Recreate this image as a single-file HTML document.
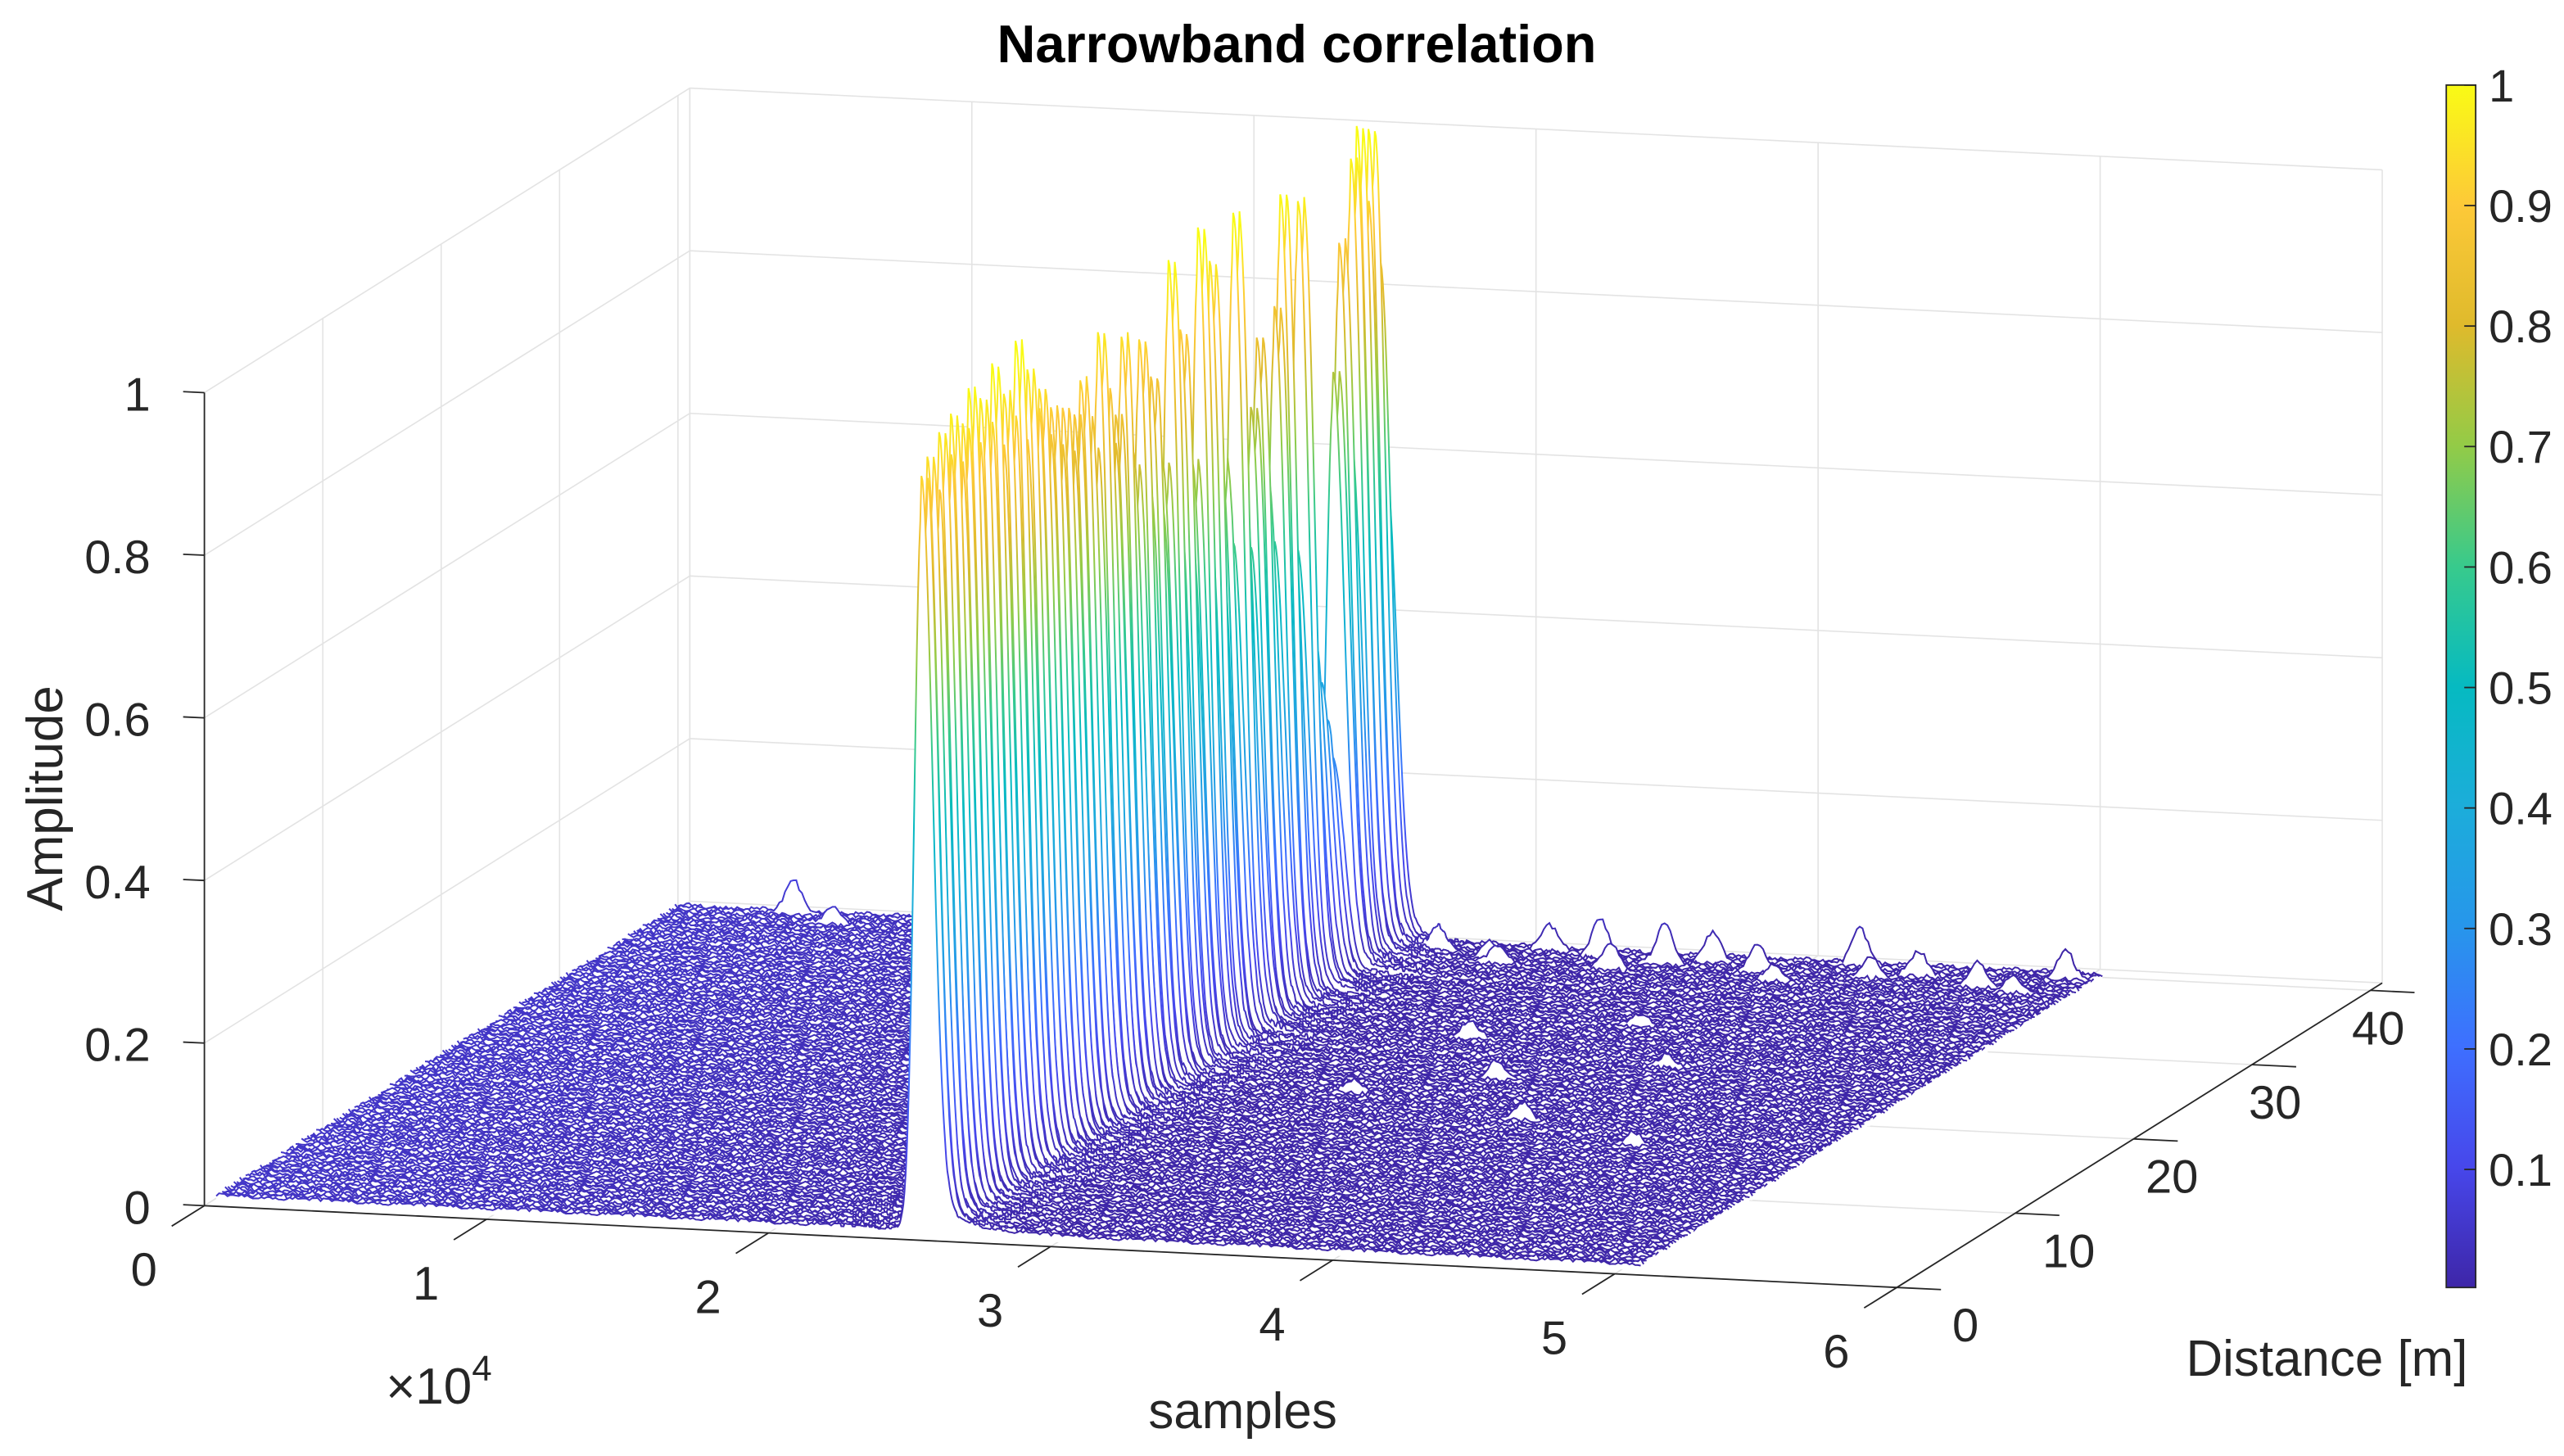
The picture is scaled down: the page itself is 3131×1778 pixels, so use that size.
<!DOCTYPE html>
<html><head><meta charset="utf-8"><style>
html,body{margin:0;padding:0;background:#fff;}
svg{display:block;}
text{font-family:"Liberation Sans",Arial,sans-serif;fill:#262626;}
</style></head><body>
<svg id="chart" xmlns="http://www.w3.org/2000/svg" width="3131" height="1778" viewBox="0 0 1568 890" preserveAspectRatio="none">
<defs id="defs"></defs>
<g id="grid"></g>
<g id="surface"></g>
<g id="axes"></g>
<text x="793" y="38" text-anchor="middle" font-size="32.5" font-weight="bold" style="fill:#000">Narrowband correlation</text>
<text x="0" y="0" text-anchor="middle" font-size="31" transform="translate(38,488) rotate(-90)">Amplitude</text>
<text x="760" y="873" text-anchor="middle" font-size="31">samples</text>
<text x="1423" y="841" text-anchor="middle" font-size="31">Distance [m]</text>
<text x="236" y="858" font-size="31">×10<tspan font-size="22" dy="-14">4</tspan></text>
<g id="colorbar"></g>
</svg>
<script>
// ---- data ----
const xTicks = [0, 1, 2, 3, 4, 5, 6];            // ×10^4 samples
const yTicks = [0, 10, 20, 30, 40];              // distance [m]
const zTicks = [0, 0.2, 0.4, 0.6, 0.8, 1];
const zTickLabels = ["0", "0.2", "0.4", "0.6", "0.8", "1"];
const cbTicks = [0.1, 0.2, 0.3, 0.4, 0.5, 0.6, 0.7, 0.8, 0.9, 1];
const cbTickLabels = ["0.1","0.2","0.3","0.4","0.5","0.6","0.7","0.8","0.9","1"];
const dataXMax = 5.05;                           // ×10^4 samples
const distFirst = 1, distLast = 40;
const peakPosition = 2.5;                        // ×10^4 samples
const peakHeights = [0.88,0.90,0.86,0.92,0.89,0.93,0.87,0.91,0.95,0.88,0.93,0.90,0.96,0.86,0.92,0.89,0.97,0.85,0.93,0.88,
0.90,0.84,0.87,0.82,0.86,0.80,0.84,0.88,0.83,0.79,0.92,0.85,0.78,0.81,0.90,0.76,0.74,0.88,0.70,0.83,
0.67,0.72,0.95,0.66,0.86,0.62,0.70,0.97,0.64,0.92,0.60,0.68,0.58,0.96,0.65,0.56,0.72,0.80,0.63,0.55,
0.82,0.95,0.60,0.52,0.93,0.48,0.40,0.35,0.30,0.25,0.70,0.85,0.62,0.94,0.97,0.88,0.96,0.80,0.55];
const floorNoise = [0.006,0.011,0.004,0.014,0.008,0.003,0.012,0.009,0.016,0.005,0.010,0.007,0.013,0.004,0.009,0.015,0.006,0.011,0.003,0.012,
0.008,0.014,0.005,0.010,0.017,0.007,0.004,0.013,0.009,0.006,0.012,0.008,0.015,0.005,0.011,0.007,0.010];
const bumps = [[78,3.1,0.03],[77,3.3,0.045],[76,3.55,0.05],[77,3.7,0.035],[75,3.9,0.035],[78,4.2,0.045],[76,4.45,0.03],[74,4.7,0.03],
[77,4.95,0.035],[75,2.95,0.02],[78,0.42,0.04],[76,0.6,0.02],[77,1.2,0.02],[74,3.4,0.03],[73,4.0,0.02],[72,1.6,0.015],
[78,1.9,0.02],[77,2.2,0.025],[76,2.75,0.025],[75,4.3,0.025],[74,3.0,0.02],[73,4.85,0.02],[78,0.9,0.02],
[60,3.8,0.015],[55,3.3,0.02],[50,4.1,0.015],[45,3.6,0.02],[40,3.2,0.015],[35,3.9,0.02],[30,4.4,0.015]];
const parulaStops = ["#3e26a8","#4747eb","#3e6fff","#2796eb","#1cadda","#06bac1","#38ca8c","#93cb47","#dfba2c","#fdc938","#f9fb15"];

// ---- projection ----
const NS = "http://www.w3.org/2000/svg";
function P(x, y, z) { return [125 + 172.5 * x + 7.24 * y, 737 + 8.33 * x - 4.54 * y - 497 * z]; }
function mk(tag, attrs, parent) { const e = document.createElementNS(NS, tag); for (const k in attrs) e.setAttribute(k, attrs[k]); parent.appendChild(e); return e; }
const YMAX = 41;
const grid = document.getElementById('grid');
const axes = document.getElementById('axes');
const defs = document.getElementById('defs');
function line(p, q, stroke, w, parent, name) {
  const l = mk('line', {x1: p[0], y1: p[1], x2: q[0], y2: q[1], stroke: stroke, 'stroke-width': w}, parent);
  
  
  return l;
}
const gc = "#e3e3e3";
xTicks.forEach(x => line(P(x, YMAX, 0), P(x, YMAX, 1), gc, 0.8, grid, 'back-grid-vertical'));
zTicks.forEach(z => line(P(0, YMAX, z), P(6, YMAX, z), gc, 0.8, grid, 'back-grid-horizontal'));
yTicks.concat([YMAX]).forEach(y => line(P(0, y, 0), P(0, y, 1), gc, 0.8, grid, 'side-grid-vertical'));
zTicks.forEach(z => line(P(0, 0, z), P(0, YMAX, z), gc, 0.8, grid, 'side-grid-horizontal'));
xTicks.forEach(x => line(P(x, 0, 0), P(x, YMAX, 0), gc, 0.8, grid, 'floor-grid-x'));
yTicks.forEach(y => line(P(0, y, 0), P(6, y, 0), gc, 0.8, grid, 'floor-grid-y'));

// ---- surface ----
const surf = document.getElementById('surface');
const SUB = 2;
const nData = peakHeights.length;
const nRows = nData * SUB;
function rowValue(r, x) {
  const i = Math.floor(r / SUB);
  const h = peakHeights[i];
  const k = Math.round(x * 100);
  let z = 0.45 * floorNoise[(k * k * 3 + r * r * 5 + k * r) % floorNoise.length];
  const d = x - peakPosition - (r % SUB) * 0.01;
  if (d < 0) z += h * Math.exp(-Math.pow(d / 0.035, 2));
  else z += h * Math.exp(-Math.pow(d / 0.055, 2)) + 0.05 * h * Math.exp(-d / 0.12);
  if (r % SUB === 0) bumps.forEach(b => { if (b[0] === i) z += b[2] * Math.exp(-Math.pow((x - b[1]) / 0.04, 2)); });
  return z;
}
for (let r = nRows - 1; r >= 0; r--) {
  const y = distFirst + r * (distLast - distFirst) / (nRows - 1);
  const xs = [];
  for (let x = 0; x <= dataXMax + 1e-9; x += 0.01) {
    if (Math.abs(x - peakPosition) < 0.3) continue;
    xs.push(x);
  }
  for (let x = peakPosition - 0.3; x < peakPosition + 0.3; x += 0.004) xs.push(x);
  xs.sort((a, b) => a - b);
  const pts = xs.map(x => P(x, y, rowValue(r, x)));
  const base = P(peakPosition, y, 0)[1];
  const gid = 'g' + r;
  const lg = mk('linearGradient', {id: gid, gradientUnits: 'userSpaceOnUse', x1: 0, y1: base, x2: 0, y2: base - 497}, defs);
  parulaStops.forEach((c, k) => mk('stop', {offset: k / (parulaStops.length - 1), 'stop-color': c}, lg));
  const ptsStr = pts.map(p => p[0].toFixed(2) + ',' + p[1].toFixed(2)).join(' ');
  const f0 = P(0, y, 0), f1 = P(dataXMax, y, 0);
  const fill = mk('polygon', {points: ptsStr + ' ' + f1[0].toFixed(2) + ',' + (f1[1] + 2).toFixed(2) + ' ' + f0[0].toFixed(2) + ',' + (f0[1] + 2).toFixed(2), fill: '#fff', stroke: 'none'}, surf);
  
  
  const pl = mk('polyline', {points: ptsStr, fill: 'none', stroke: 'url(#' + gid + ')', 'stroke-width': 1.0}, surf);
  
  
}

// ---- axes ----
const ac = "#262626";
line(P(0, 0, 0), P(0, 0, 1), ac, 0.9, axes, 'z-axis-line');
line(P(0, 0, 0), P(6, 0, 0), ac, 0.9, axes, 'x-axis-line');
line(P(6, 0, 0), P(6, YMAX, 0), ac, 0.9, axes, 'y-axis-line');
zTicks.forEach((z, k) => {
  const p = P(0, 0, z);
  line(p, [p[0] - 13, p[1] - 0.6], ac, 0.9, axes, 'z-tick');
  const t = mk('text', {x: p[0] - 33, y: p[1] + 11, 'text-anchor': 'end', 'font-size': 29}, axes);
  
  
  t.textContent = zTickLabels[k];
});
xTicks.forEach(x => {
  const p = P(x, 0, 0);
  line(p, [p[0] - 20, p[1] + 12.5], ac, 0.9, axes, 'x-tick');
  const t = mk('text', {x: p[0] - 37, y: p[1] + 49, 'text-anchor': 'middle', 'font-size': 29}, axes);
  
  
  t.textContent = String(x);
});
yTicks.forEach((y, k) => {
  const p = P(6, y, 0);
  line(p, [p[0] + 27, p[1] + 1.3], ac, 0.9, axes, 'y-tick');
  const t = mk('text', {x: p[0] + 42 - 9.3 * k, y: p[1] + 33, 'text-anchor': 'middle', 'font-size': 29}, axes);
  
  
  t.textContent = String(y);
});

// ---- colorbar ----
const cb = document.getElementById('colorbar');
const cbTop = 52, cbBot = 787, cbX = 1496, cbW = 18, cbMin = 0.002;
function cbY(v) { return cbTop + (1 - v) / (1 - cbMin) * (cbBot - cbTop); }
const cg = mk('linearGradient', {id: 'cbg', x1: 0, y1: 1, x2: 0, y2: 0}, defs);
parulaStops.forEach((c, k) => mk('stop', {offset: k / (parulaStops.length - 1), 'stop-color': c}, cg));
const bar = mk('rect', {x: cbX, y: cbTop, width: cbW, height: cbBot - cbTop, fill: 'url(#cbg)', stroke: ac, 'stroke-width': 0.9}, cb);


cbTicks.forEach((v, k) => {
  const yy = cbY(v);
  line([cbX + cbW - 7, yy], [cbX + cbW, yy], ac, 0.9, cb, 'colorbar-tick');
  const t = mk('text', {x: 1522, y: yy + 10, 'font-size': 28}, cb);
  
  
  t.textContent = cbTickLabels[k];
});
</script>
</body></html>
